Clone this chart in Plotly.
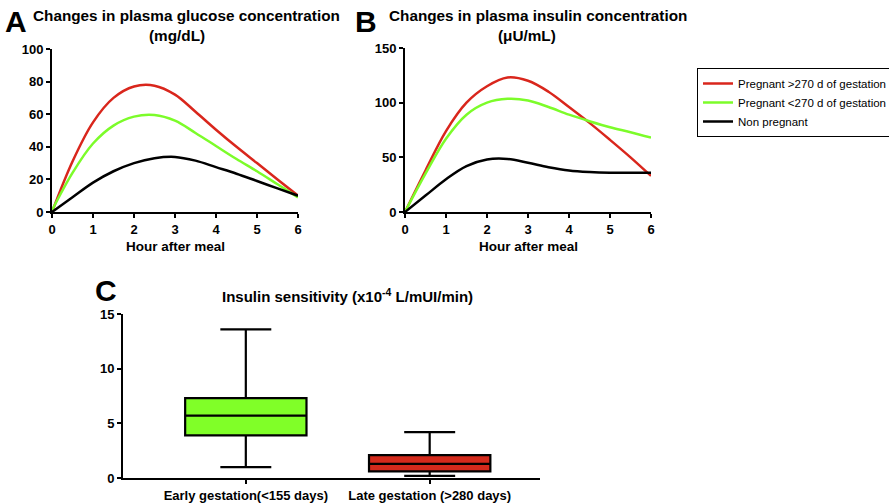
import plotly.graph_objects as go

hours = [0, 0.5, 1, 1.5, 2, 2.5, 3, 3.5, 4, 4.5, 5, 5.5, 6]
glucose_late = [0, 31, 55, 70, 77, 77.5, 72, 61.5, 50.5, 40, 30, 20, 10]
glucose_early = [1, 24, 42, 53, 58.5, 59.5, 56, 48.5, 40.5, 32.5, 25, 17, 9]
glucose_non = [0, 9, 18, 25, 30, 33, 33.8, 31.5, 27.5, 23.5, 19, 14.5, 10]

insulin_late = [0, 38, 74, 100, 115, 123, 120, 110, 96, 81.5, 66, 50, 33]
insulin_early = [0, 35, 67, 89, 100, 103.5, 102, 96, 89, 83, 77.5, 73, 68]
insulin_non = [0, 15, 30, 42, 48, 48.5, 45, 41, 38, 36.6, 36, 36, 36]

series_names = ["Pregnant >270 d of gestation", "Pregnant <270 d of gestation", "Non pregnant"]
series_colors = ["#d9261c", "#7cfc2a", "#000000"]

box_categories = ["Early gestation(<155 days)", "Late gestation (>280 days)"]
box_q1 = [3.9, 0.6]
box_median = [5.7, 1.3]
box_q3 = [7.3, 2.1]
box_low = [1.0, 0.2]
box_high = [13.6, 4.2]
box_colors = ["#80ff28", "#d42a1c"]

FONT = "Arial, Liberation Sans, sans-serif"
fig = go.Figure()

for i, (ys, name, col) in enumerate(zip([glucose_late, glucose_early, glucose_non], series_names, series_colors)):
    fig.add_trace(go.Scatter(x=hours, y=ys, mode="lines", name=name,
                             line=dict(color=col, width=2.5, shape="spline", smoothing=1.0),
                             xaxis="x", yaxis="y", showlegend=True))
for ys, name, col in zip([insulin_late, insulin_early, insulin_non], series_names, series_colors):
    fig.add_trace(go.Scatter(x=hours, y=ys, mode="lines", name=name,
                             line=dict(color=col, width=2.5, shape="spline", smoothing=1.0),
                             xaxis="x2", yaxis="y2", showlegend=False))

for i in range(2):
    fig.add_trace(go.Box(x=[box_categories[i]], q1=[box_q1[i]], median=[box_median[i]], q3=[box_q3[i]],
                         lowerfence=[box_low[i]], upperfence=[box_high[i]],
                         fillcolor=box_colors[i], line=dict(color="black", width=2.2),
                         width=0.66, whiskerwidth=0.42, boxpoints=False,
                         xaxis="x3", yaxis="y3", showlegend=False, name=box_categories[i]))

axis_common = dict(showline=True, linecolor="black", linewidth=2, ticks="outside", ticklen=4,
                   tickwidth=2, tickcolor="black", showgrid=False, zeroline=False, automargin=False,
                   tickfont=dict(family=FONT, size=13, color="black", weight="bold"))

fig.update_layout(
    width=889, height=504,
    margin=dict(l=0, r=0, t=0, b=0, pad=0, autoexpand=False),
    paper_bgcolor="white", plot_bgcolor="white",
    font=dict(family=FONT, color="black"),
    xaxis=dict(domain=[52/889, 298/889], range=[0, 6], tickvals=[0, 1, 2, 3, 4, 5, 6],
               anchor="y", **axis_common),
    yaxis=dict(domain=[1-212/504, 1-49/504], range=[0, 100], tickvals=[0, 20, 40, 60, 80, 100],
               anchor="x", **axis_common),
    xaxis2=dict(domain=[405/889, 651/889], range=[0, 6], tickvals=[0, 1, 2, 3, 4, 5, 6],
                anchor="y2", **axis_common),
    yaxis2=dict(domain=[1-212/504, 1-48/504], range=[0, 150], tickvals=[0, 50, 100, 150],
                anchor="x2", **axis_common),
    xaxis3=dict(domain=[123/889, 540/889], range=[-0.668, 1.6], type="category",
                anchor="y3", **axis_common),
    yaxis3=dict(domain=[1-478/504, 1-314/504], range=[0, 15], tickvals=[0, 5, 10, 15],
                anchor="x3", **axis_common),
    legend=dict(x=697/889, y=1-68/504, xanchor="left", yanchor="top",
                bordercolor="black", borderwidth=1, bgcolor="white",
                font=dict(family=FONT, size=11.5, color="black"), tracegroupgap=0),
)

ann = []
def txt(x, y, s, size, bold=True, xanchor="center"):
    ann.append(dict(x=x/889, y=1-y/504, xref="paper", yref="paper", text=s, showarrow=False,
                    xanchor=xanchor, yanchor="middle",
                    font=dict(family=FONT, size=size, color="black", weight="bold" if bold else "normal")))

txt(3, 22, "A", 30, xanchor="left")
txt(353, 22, "B", 30, xanchor="left")
txt(93, 290, "C", 30, xanchor="left")
txt(186, 15, "Changes in plasma glucose concentration", 15.3)
txt(177, 36, "(mg/dL)", 15.3)
txt(538, 15, "Changes in plasma insulin concentration", 15.3)
txt(527, 36, "(\u03bcU/mL)", 15.3)
txt(175, 246, "Hour after meal", 13.5)
txt(528, 246, "Hour after meal", 13.5)
txt(347, 295, "Insulin sensitivity (x10<sup>-4</sup> L/mUI/min)", 15)
fig.update_layout(annotations=ann)

fig.write_html("out.html", config={"displayModeBar": False},
               post_script="document.body.style.margin='0';document.body.style.overflow='hidden';")
